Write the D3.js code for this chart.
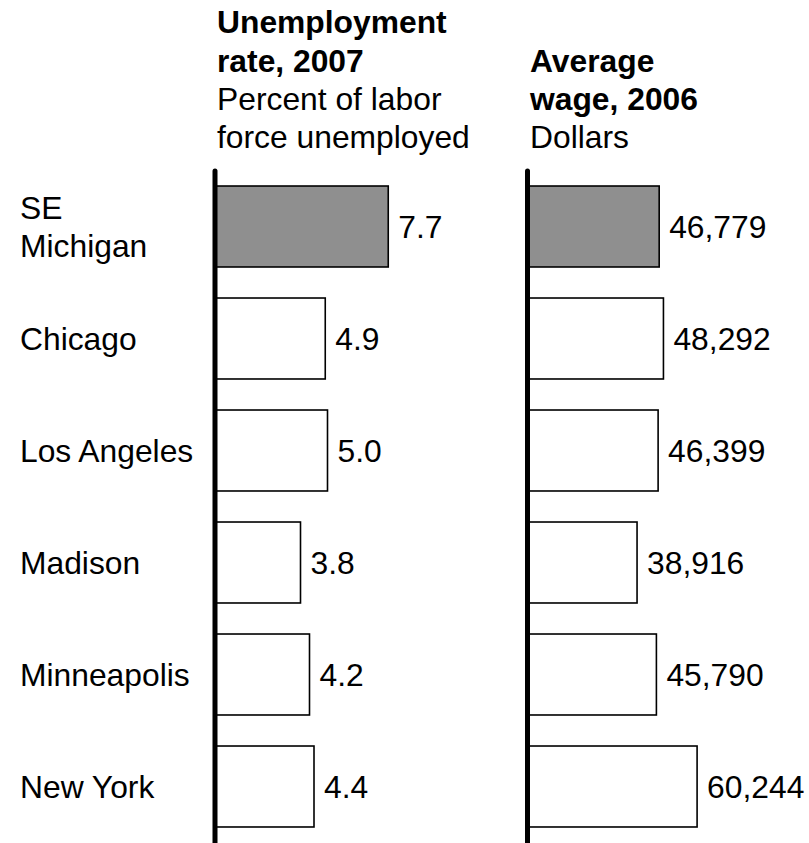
<!DOCTYPE html>
<html>
<head>
<meta charset="utf-8">
<script src="https://cdn.jsdelivr.net/npm/d3@7"></script>
<style>
  body { margin: 0; background: #fff; }
  text { font-family: "Liberation Sans", Arial, sans-serif; fill: #000; }
</style>
</head>
<body>
<div id="graph"></div>
<script>
const cities = ['SE Michigan', 'Chicago', 'Los Angeles', 'Madison', 'Minneapolis', 'New York']
const cityLines = [['SE', 'Michigan'], ['Chicago'], ['Los Angeles'], ['Madison'], ['Minneapolis'], ['New York']]
const unemployment = [7.7, 4.9, 5.0, 3.8, 4.2, 4.4]
const wages = [46779, 48292, 46399, 38916, 45790, 60244]
const highlight = 'SE Michigan'

const unempTitle = ['Unemployment', 'rate, 2007']
const unempSub = ['Percent of labor', 'force unemployed']
const wageTitle = ['Average', 'wage, 2006']
const wageSub = ['Dollars']

const width = 809, height = 843
const fontSize = 31.8
const lineH = 38.3

var svg = d3.select('#graph')
  .append('svg')
  .attr('width', width)
  .attr('height', height)

var y = d3.scaleBand()
  .domain(cities)
  .range([170.5, 842.5])
  .paddingInner(0.277)
  .paddingOuter(0.1385)

var xUnemp = d3.scaleLinear().domain([0, 8]).range([215, 395])
var xWage = d3.scaleLinear().domain([0, 60000]).range([527.5, 696.4])

// city labels
svg.append('g')
  .selectAll('text')
  .data(cities)
  .enter()
  .append('text')
  .attr('x', 20)
  .attr('font-size', fontSize)
  .each(function (d, i) {
    var lines = cityLines[i]
    var mid = y(d) + y.bandwidth() / 2 + 11.5
    var first = mid - (lines.length - 1) * lineH / 2
    d3.select(this).selectAll('tspan')
      .data(lines)
      .enter()
      .append('tspan')
      .attr('x', 20)
      .attr('y', (l, j) => first + j * lineH)
      .text((l) => l)
  })

function header(x, bold, normal) {
  var lines = bold.map((t) => ({ t: t, b: true })).concat(normal.map((t) => ({ t: t, b: false })))
  var start = 148.3 - (lines.length - 1) * lineH
  svg.append('g')
    .selectAll('text')
    .data(lines)
    .enter()
    .append('text')
    .attr('x', x)
    .attr('y', (d, i) => start + i * lineH)
    .attr('font-size', fontSize)
    .attr('font-weight', (d) => d.b ? 'bold' : 'normal')
    .text((d) => d.t)
}

function panel(x, values, fmt) {
  var g = svg.append('g')

  g.selectAll('rect')
    .data(cities)
    .enter()
    .append('rect')
    .attr('x', x(0))
    .attr('y', (d) => y(d))
    .attr('width', (d, i) => x(values[i]) - x(0))
    .attr('height', y.bandwidth())
    .attr('fill', (d) => d === highlight ? '#8f8f8f' : '#fff')
    .attr('stroke', '#000')
    .attr('stroke-width', 1.6)

  g.selectAll('text')
    .data(cities)
    .enter()
    .append('text')
    .attr('x', (d, i) => x(values[i]) + 10)
    .attr('y', (d) => y(d) + y.bandwidth() / 2 + 11)
    .attr('font-size', fontSize)
    .text((d, i) => fmt(values[i]))

  g.append('line')
    .attr('x1', x(0))
    .attr('x2', x(0))
    .attr('y1', 171)
    .attr('y2', height + 5)
    .attr('stroke', '#000')
    .attr('stroke-width', 5)
    .attr('stroke-linecap', 'round')
}

header(217, unempTitle, unempSub)
header(530, wageTitle, wageSub)
panel(xUnemp, unemployment, d3.format('.1f'))
panel(xWage, wages, d3.format(','))
</script>
</body>
</html>
